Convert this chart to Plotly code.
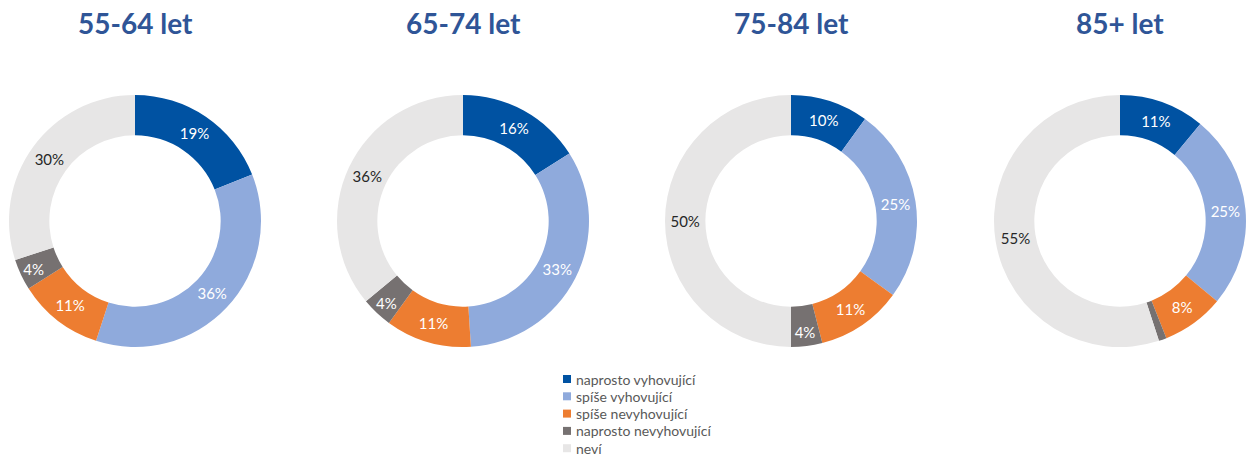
import plotly.graph_objects as go

categories = ["naprosto vyhovující", "spíše vyhovující", "spíše nevyhovující",
              "naprosto nevyhovující", "neví"]
groups = ["55-64 let", "65-74 let", "75-84 let", "85+ let"]
values_55_64 = [19, 36, 11, 4, 30]
values_65_74 = [16, 33, 11, 4, 36]
values_75_84 = [10, 25, 11, 4, 50]
values_85 = [11, 25, 8, 1, 55]
all_values = [values_55_64, values_65_74, values_75_84, values_85]

colors = ["#0052A2", "#8FAADC", "#ED7D31", "#767171", "#E7E6E6"]
text_colors = ["white", "white", "white", "white", "#262626"]
FONT = "Lato, Open Sans, sans-serif"

W, H = 1248, 456
centers_x = [135, 463, 791, 1120]
center_y = 221
R = 126

fig = go.Figure()
for i, (g, vals) in enumerate(zip(groups, all_values)):
    cx = centers_x[i]
    labels_txt = [f"{v}%" if v >= 2 else "" for v in vals]
    fig.add_trace(go.Pie(
        labels=categories,
        values=vals,
        text=labels_txt,
        texttemplate="%{text}",
        textposition="inside",
        insidetextorientation="horizontal",
        textfont=dict(family=FONT, size=15, color=text_colors),
        marker=dict(colors=colors, line=dict(width=0)),
        hole=0.68,
        sort=False,
        direction="clockwise",
        rotation=0,
        domain=dict(x=[(cx - R) / W, (cx + R) / W],
                    y=[1 - (center_y + R) / H, 1 - (center_y - R) / H]),
        showlegend=False,
        hoverinfo="label+value",
    ))
    fig.add_annotation(
        x=cx / W, y=1 - 23 / H, xref="paper", yref="paper",
        text=f"<b>{g}</b>", showarrow=False,
        font=dict(family=FONT, size=28, color="#2F5597"),
        xanchor="center", yanchor="middle",
    )

# legend (drawn as squares + text, in the category order)
leg_x = 563
leg_y0 = 379
leg_dy = 17.3
for j, (cat, col) in enumerate(zip(categories, colors)):
    yc = leg_y0 + j * leg_dy
    fig.add_shape(
        type="rect", xref="paper", yref="paper",
        x0=leg_x / W, x1=(leg_x + 8) / W,
        y0=1 - (yc + 4) / H, y1=1 - (yc - 4) / H,
        fillcolor=col, line=dict(width=0),
    )
    fig.add_annotation(
        x=(leg_x + 12) / W, y=1 - yc / H, xref="paper", yref="paper",
        text=cat, showarrow=False, xanchor="left", yanchor="middle",
        height=15, borderpad=0, valign="middle",
        font=dict(family=FONT, size=14, color="#595959"),
    )

fig.update_layout(
    width=W, height=H,
    margin=dict(l=0, r=0, t=0, b=0),
    paper_bgcolor="white", plot_bgcolor="white",
    showlegend=False,
    uniformtext=dict(minsize=12, mode="show"),
)

fig.write_html(
    "out.html",
    config={"responsive": False, "displayModeBar": False},
    post_script="document.body.style.margin='0';document.body.style.overflow='hidden';",
)
